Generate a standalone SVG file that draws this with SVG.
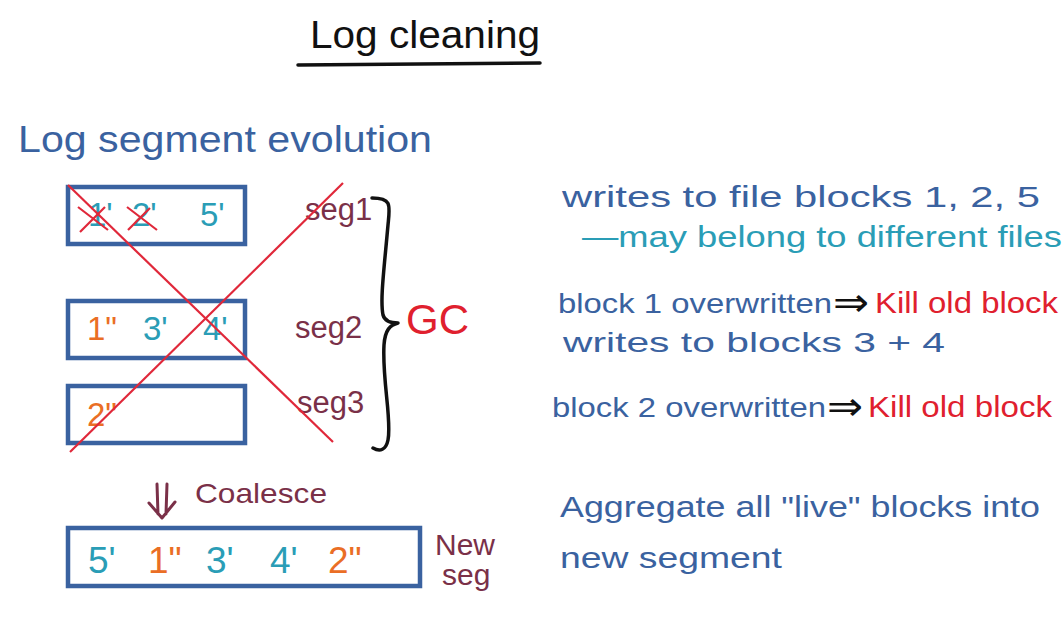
<svg xmlns="http://www.w3.org/2000/svg" width="1064" height="620" viewBox="0 0 1064 620">
<style>
text{font-family:"Liberation Sans","DejaVu Sans",sans-serif;}
.box{fill:none;stroke:#3a62a0;stroke-width:4.5;}
.blue{fill:#3a62a0;}
.teal{fill:#2a9db6;}
.orange{fill:#ea6e25;}
.red{fill:#e0202e;}
.maroon{fill:#7a3048;}
.black{fill:#111;}
.rl{stroke:#e0283a;stroke-width:2.2;fill:none;}
.ink{fill:none;stroke-linecap:round;stroke-linejoin:round;}
.dg{font-size:33px;}
.dg2{font-size:37px;}
</style>
<rect width="1064" height="620" fill="#fff"/>
<g id="title">
<text x="310" y="48" font-size="38" class="black" textLength="230" lengthAdjust="spacingAndGlyphs">Log cleaning</text>
<path d="M298 65 L540 63" class="ink" stroke="#111" stroke-width="3.5"/>
</g>
<g id="subtitle">
<text x="18" y="152" font-size="36" class="blue" textLength="414" lengthAdjust="spacingAndGlyphs">Log segment evolution</text>
</g>
<g id="seg1">
<rect x="68" y="187" width="177" height="57" class="box"/>
<text x="88" y="226" class="teal dg">1'</text>
<text x="132" y="226" class="teal dg">2'</text>
<text x="200" y="226" class="teal dg">5'</text>
<path d="M78 207 L108 230 M80 232 L105 207 M127 207 L157 230 M128 230 L150 208" class="rl"/>
<text x="305" y="220" font-size="31" class="maroon">seg1</text>
</g>
<g id="seg2">
<rect x="68" y="301" width="177" height="57" class="box"/>
<text x="87" y="340" class="orange dg">1"</text>
<text x="143" y="340" class="teal dg">3'</text>
<text x="203" y="340" class="teal dg">4'</text>
<text x="295" y="338" font-size="31" class="maroon">seg2</text>
</g>
<g id="seg3">
<rect x="68" y="386" width="177" height="57" class="box"/>
<text x="87" y="426" class="orange dg">2"</text>
<text x="297" y="413" font-size="31" class="maroon">seg3</text>
</g>
<g id="cross">
<path d="M68 185 L333 442" class="rl"/>
<path d="M70 452 L343 183" class="rl"/>
</g>
<g id="gc">
<path d="M372 198 C392 198 390 205 388 225 C384 270 380 300 383 315 C385 322 392 323 398 323 C390 325 385 330 384 345 C382 380 392 420 388 440 C386 450 380 452 373 448" class="ink" stroke="#111" stroke-width="3.5"/>
<text x="406" y="334" font-size="42" class="red">GC</text>
</g>
<g id="newseg">
<rect x="68" y="528" width="352" height="58" class="box"/>
<text x="88" y="573" class="teal dg2">5'</text>
<text x="148" y="573" class="orange dg2">1"</text>
<text x="206" y="573" class="teal dg2">3'</text>
<text x="270" y="573" class="teal dg2">4'</text>
<text x="328" y="573" class="orange dg2">2"</text>
<text x="435" y="555" font-size="30" class="maroon">New</text>
<text x="442" y="585" font-size="30" class="maroon">seg</text>
</g>
<g id="connectors">
<path d="M157 484 L158 514 M167 484 L166 514 M149 503 L162 518 L175 502" class="ink" stroke="#7a3048" stroke-width="3"/>
<text x="195" y="503" font-size="28" class="maroon" textLength="132" lengthAdjust="spacingAndGlyphs">Coalesce</text>
</g>
<g id="notes">
<text x="562" y="207" font-size="29" class="blue" textLength="478" lengthAdjust="spacingAndGlyphs">writes to file blocks 1, 2, 5</text>
<text x="582" y="247" font-size="29" class="teal" textLength="480" lengthAdjust="spacingAndGlyphs">—may belong to different files</text>
<text x="558" y="313" font-size="28" class="blue" textLength="274" lengthAdjust="spacingAndGlyphs">block 1 overwritten</text>
<text x="833" y="316" font-size="40" class="black" textLength="36" lengthAdjust="spacingAndGlyphs">⇒</text>
<text x="875" y="313" font-size="29" class="red" textLength="183" lengthAdjust="spacingAndGlyphs">Kill old block</text>
<text x="563" y="352" font-size="28" class="blue" textLength="382" lengthAdjust="spacingAndGlyphs">writes to blocks 3 + 4</text>
<text x="552" y="417" font-size="28" class="blue" textLength="274" lengthAdjust="spacingAndGlyphs">block 2 overwritten</text>
<text x="827" y="420" font-size="40" class="black" textLength="36" lengthAdjust="spacingAndGlyphs">⇒</text>
<text x="868" y="417" font-size="29" class="red" textLength="184" lengthAdjust="spacingAndGlyphs">Kill old block</text>
<text x="560" y="517" font-size="29" class="blue" textLength="480" lengthAdjust="spacingAndGlyphs">Aggregate all "live" blocks into</text>
<text x="560" y="568" font-size="29" class="blue" textLength="222" lengthAdjust="spacingAndGlyphs">new segment</text>
</g>
</svg>
